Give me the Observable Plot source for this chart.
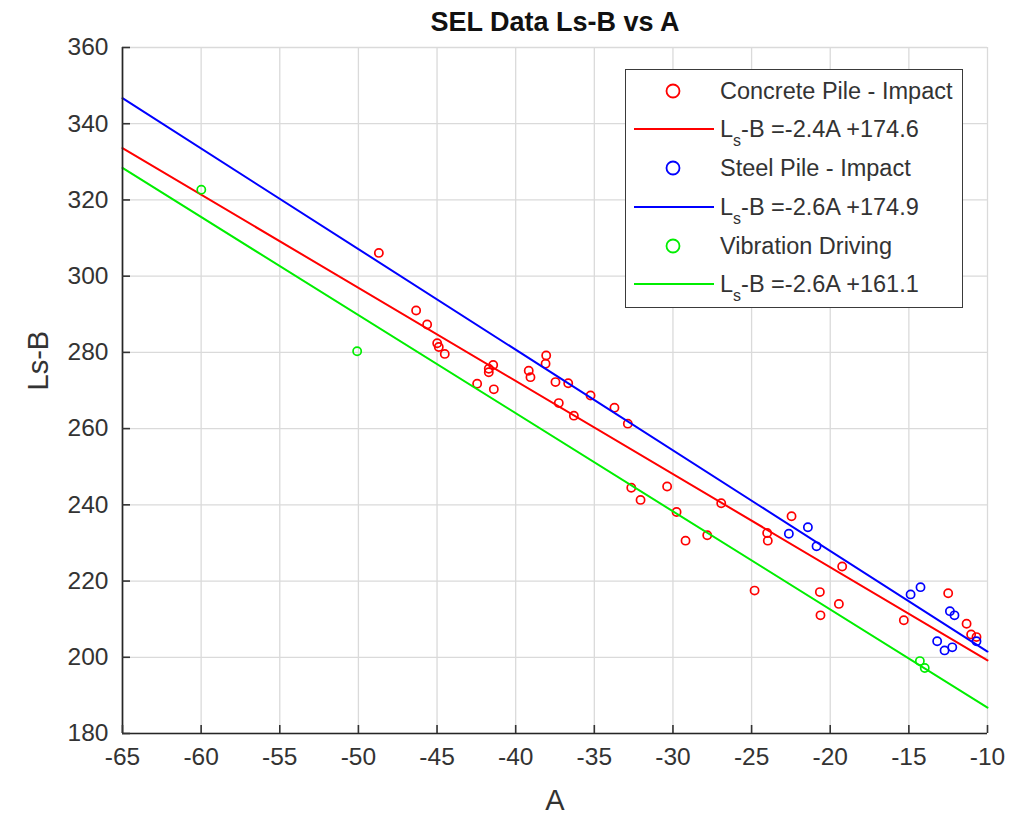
<!DOCTYPE html>
<html><head><meta charset="utf-8">
<script src="https://cdn.jsdelivr.net/npm/d3@7"></script>
<script src="https://cdn.jsdelivr.net/npm/@observablehq/plot@0.6"></script>
<style>
body{margin:0;background:#fff;font-family:"Liberation Sans",Arial,Helvetica,sans-serif;}
#wrap{position:relative;width:1027px;height:815px;}
#legend{position:absolute;left:625px;top:69px;width:336px;height:237px;border:1.3px solid #3a3a3a;background:#fff;color:#333;font-size:23.5px;}
.row{position:absolute;left:0;width:336px;height:28px;}
.row .txt{position:absolute;left:94px;top:0;line-height:28px;white-space:nowrap;}
.row svg{position:absolute;left:0;top:0;}
sub{font-size:16px;vertical-align:-9px;line-height:0;}
</style></head>
<body><div id="wrap"><div id="legend"></div></div>
<script>
// ---- data ----
const titleText = "SEL Data Ls-B vs A";
const xLabel = "A";
const yLabel = "Ls-B";
const xDomain = [-65, -10];
const yDomain = [180, 360];
const xTicks = [-65, -60, -55, -50, -45, -40, -35, -30, -25, -20, -15, -10];
const yTicks = [180, 200, 220, 240, 260, 280, 300, 320, 340, 360];

const seriesNames = ["Concrete Pile - Impact", "Steel Pile - Impact", "Vibration Driving"];
const seriesColors = ["#ff0000", "#0000ff", "#00ee00"];
const fitLabels = ["-2.4A +174.6", "-2.6A +174.9", "-2.6A +161.1"];

const concreteA = [-48.70, -46.33, -45.63, -44.99, -44.89, -44.51, -42.45, -41.43, -41.71, -41.71, -41.39,
  -39.17, -39.06, -38.06, -38.10, -37.47, -36.66, -37.26, -36.30, -35.24, -33.72, -32.87, -32.65, -32.06,
  -30.37, -29.77, -29.20, -27.82, -26.93, -24.81, -24.01, -23.97, -22.46, -20.66, -20.62, -19.45, -19.24,
  -15.32, -12.50, -11.33, -11.04, -10.70];
const concreteLsB = [306.1, 291.0, 287.3, 282.4, 281.4, 279.6, 271.8, 276.7, 275.7, 274.8, 270.3,
  275.2, 273.5, 279.2, 277.0, 272.2, 271.9, 266.7, 263.4, 268.7, 265.5, 261.3, 244.5, 241.3,
  244.8, 238.1, 230.6, 232.0, 240.4, 217.5, 232.6, 230.6, 237.0, 217.1, 211.0, 214.0, 223.8,
  209.7, 216.8, 208.8, 206.0, 205.3];
const steelA = [-22.63, -21.42, -20.87, -14.89, -14.26, -12.39, -12.10, -13.20, -12.73, -12.24, -10.70];
const steelLsB = [232.4, 234.1, 229.1, 216.5, 218.4, 212.1, 211.0, 204.2, 201.8, 202.6, 204.2];
const vibrationA = [-59.99, -50.08, -14.30, -13.99];
const vibrationLsB = [322.7, 280.3, 199.0, 197.2];

// fitted line end points (at A = -65 and A = -10)
const fitA = [-65, -10];
const concreteFit = [333.6, 199.2];
const steelFit = [346.7, 201.5];
const vibrationFit = [328.4, 186.8];

// ---- build ----
const pts = [[concreteA, concreteLsB], [steelA, steelLsB], [vibrationA, vibrationLsB]];
const fits = [concreteFit, steelFit, vibrationFit];
const font = '"Liberation Sans", Arial, Helvetica, sans-serif';
const ink = "#333333";

const seriesMarks = [];
pts.forEach(([xs, ys], k) => {
  const rows = xs.map((a, i) => ({a, v: ys[i]}));
  seriesMarks.push(Plot.dot(rows, {x: "a", y: "v", r: 4.1, stroke: seriesColors[k], strokeWidth: 1.7, fill: "none"}));
  const frows = fitA.map((a, i) => ({a, v: fits[k][i]}));
  seriesMarks.push(Plot.line(frows, {x: "a", y: "v", stroke: seriesColors[k], strokeWidth: 2}));
});

const chart = Plot.plot({
  width: 1027, height: 815,
  marginLeft: 122, marginRight: 40, marginTop: 47, marginBottom: 82,
  style: {fontFamily: font, fontSize: "24.5px", color: ink, background: "white", overflow: "visible"},
  x: {domain: xDomain},
  y: {domain: yDomain},
  marks: [
    Plot.gridX(xTicks, {stroke: "#dadada", strokeOpacity: 1, strokeWidth: 1.3}),
    Plot.gridY(yTicks, {stroke: "#dadada", strokeOpacity: 1, strokeWidth: 1.3}),
    ...seriesMarks,
    Plot.ruleX([xDomain[0]], {stroke: "#262626", strokeWidth: 1.7}),
    Plot.ruleY([yDomain[0]], {stroke: "#262626", strokeWidth: 1.7}),
    Plot.axisX(xTicks, {tickSize: -8, tickPadding: 22, strokeWidth: 1.6, label: null, tickFormat: d => String(d), fontSize: 24.5}),
    Plot.axisY(yTicks, {tickSize: -8, tickPadding: 22, strokeWidth: 1.6, label: null, tickFormat: d => String(d), fontSize: 24.5}),
    Plot.text([xLabel], {frameAnchor: "bottom", lineAnchor: "middle", dy: 67, fontSize: 29, fill: ink}),
    Plot.text([yLabel], {frameAnchor: "left", dx: -84, rotate: -90, fontSize: 29, fill: ink}),
    Plot.text([titleText], {frameAnchor: "top", lineAnchor: "middle", dy: -25, fontSize: 27, fontWeight: "bold", fill: "#111"})
  ]
});
document.getElementById("wrap").prepend(chart);

// legend
const legend = document.getElementById("legend");
const rowCenters = [21, 59, 98, 137, 176, 214];
seriesNames.forEach((name, k) => {
  const r1 = document.createElement("div");
  r1.className = "row"; r1.style.top = (rowCenters[2*k] - 14) + "px";
  r1.innerHTML = `<svg width="94" height="28"><circle cx="47" cy="14" r="6.5" fill="none" stroke="${seriesColors[k]}" stroke-width="1.8"/></svg><span class="txt">${name}</span>`;
  legend.appendChild(r1);
  const r2 = document.createElement("div");
  r2.className = "row"; r2.style.top = (rowCenters[2*k+1] - 14) + "px";
  r2.innerHTML = `<svg width="94" height="28"><line x1="8" x2="88" y1="14" y2="14" stroke="${seriesColors[k]}" stroke-width="1.8"/></svg><span class="txt">L<sub>s</sub>-B =${fitLabels[k]}</span>`;
  legend.appendChild(r2);
});
</script></body></html>
